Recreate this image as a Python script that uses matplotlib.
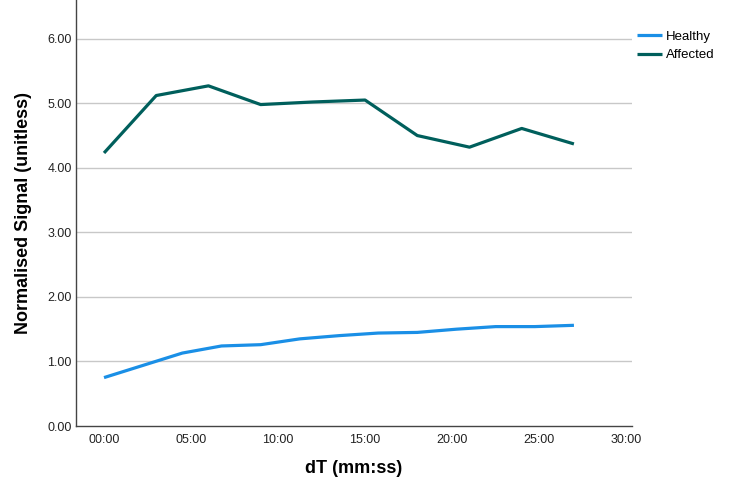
import numpy as np
import matplotlib.pyplot as plt

plt.rcParams['font.family'] = ['Liberation Sans', 'DejaVu Sans']

# time in minutes
t_healthy = np.array([0, 2.25, 4.5, 6.75, 9, 11.25, 13.5, 15.75, 18, 20.25, 22.5, 24.75, 27])
healthy = np.array([0.75, 0.94, 1.13, 1.24, 1.26, 1.35, 1.40, 1.44, 1.45, 1.50, 1.54, 1.54, 1.56])

t_affected = np.array([0, 3, 6, 9, 12, 15, 18, 21, 24, 27])
affected = np.array([4.23, 5.12, 5.27, 4.98, 5.02, 5.05, 4.50, 4.32, 4.61, 4.37])

xticks = [0, 5, 10, 15, 20, 25, 30]
xlabels = ['00:00', '05:00', '10:00', '15:00', '20:00', '25:00', '30:00']
yticks = [0, 1, 2, 3, 4, 5, 6]

fig = plt.figure(figsize=(7.48, 4.9), dpi=100)
ax = fig.add_axes([0.1016, 0.1306, 0.7434, 0.8694])

ax.plot(t_healthy, healthy, color='#1a8fe6', lw=2.3, label='Healthy', solid_capstyle='butt')
ax.plot(t_affected, affected, color='#005f5c', lw=2.3, label='Affected', solid_capstyle='butt')

ax.set_xlim(-1.61, 30.34)
ax.set_ylim(0, 6.6)
ax.set_xticks(xticks)
ax.set_xticklabels(xlabels)
ax.set_yticks(yticks)
ax.set_yticklabels(["{:.2f}".format(v) for v in yticks])
ax.tick_params(axis='both', length=0, labelsize=9, colors='#222222', pad=3)
ax.tick_params(axis='x', pad=6)

for y in yticks[1:]:
    ax.axhline(y, color='#c8c8c8', lw=1, zorder=0)

for s in ['top', 'right']:
    ax.spines[s].set_visible(False)
for s in ['left', 'bottom']:
    ax.spines[s].set_color('#444444')
    ax.spines[s].set_linewidth(1)

ax.set_xlabel('dT (mm:ss)', fontsize=13, fontweight='bold', labelpad=10)
ax.set_ylabel('Normalised Signal (unitless)', fontsize=13, fontweight='bold', labelpad=11)

ax.legend(loc='upper left', bbox_to_anchor=(1.0, 0.94), frameon=False, fontsize=9.5,
          handlelength=1.9, handletextpad=0.3, labelspacing=0.45, borderaxespad=0.0)

plt.savefig('out.png', dpi=100)
